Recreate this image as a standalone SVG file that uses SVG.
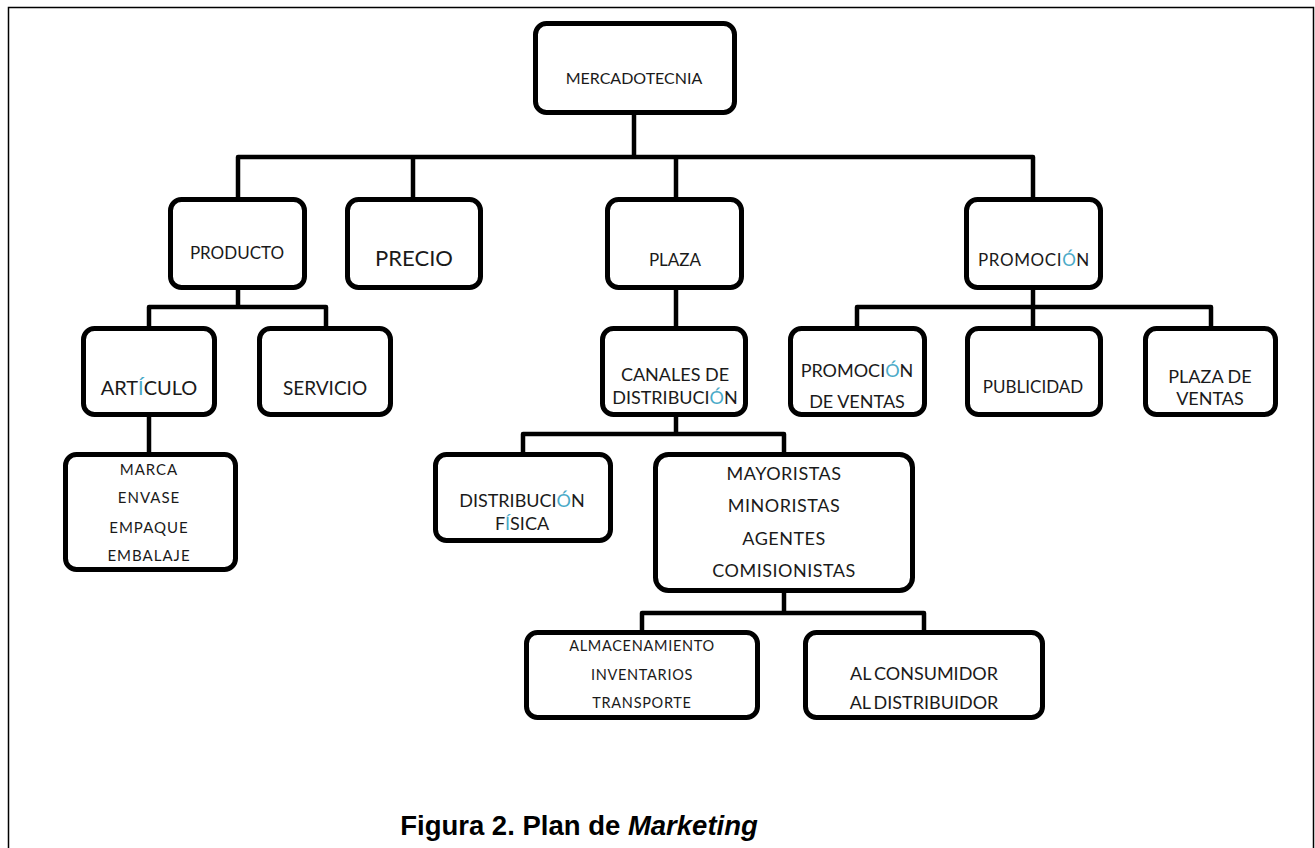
<svg xmlns="http://www.w3.org/2000/svg" width="1315" height="848" viewBox="0 0 1315 848">
  <style>
    .box { fill: #ffffff; stroke: #000000; stroke-width: 5; }
    .wire { fill: none; stroke: #000000; stroke-width: 4.5; stroke-linejoin: round; }
    .lbl { font-family: Lato, "Open Sans", "DejaVu Sans", sans-serif; fill: #1a1a1a; text-anchor: middle; }
    .acc { fill: #4aaac8; }
    .cap { font-family: "Liberation Sans", Arial, sans-serif; font-weight: bold; font-size: 27.5px; fill: #000000; text-anchor: middle; }
  </style>

  <rect x="0" y="0" width="1315" height="848" fill="#ffffff"/>
  <!-- page frame, open at the bottom -->
  <path d="M8.5,860 V7.5 H1313.5 V860" fill="none" stroke="#000000" stroke-width="1.5"/>

  <g id="connectors">
    <path class="wire" d="M634,115 V157"/>
    <path class="wire" d="M238,198 V157 H1033 V198"/>
    <path class="wire" d="M413,157 V198"/>
    <path class="wire" d="M676,157 V198"/>
    <path class="wire" d="M238,290 V307"/>
    <path class="wire" d="M149,326 V307 H326 V326"/>
    <path class="wire" d="M149,417 V452"/>
    <path class="wire" d="M676,290 V326"/>
    <path class="wire" d="M676,417 V434"/>
    <path class="wire" d="M523,452 V434 H784 V452"/>
    <path class="wire" d="M784,593 V613"/>
    <path class="wire" d="M642,630 V613 H924 V630"/>
    <path class="wire" d="M1033,290 V326"/>
    <path class="wire" d="M857,326 V307 H1211 V326"/>
  </g>

  <g id="mercadotecnia">
    <rect class="box" x="535.5" y="23.5" width="199" height="89" rx="11"/>
    <text class="lbl" x="634" y="84" font-size="16">MERCADOTECNIA</text>
  </g>

  <g id="producto">
    <rect class="box" x="170.5" y="199.5" width="134" height="88" rx="11"/>
    <text class="lbl" x="237" y="259" font-size="17">PRODUCTO</text>
  </g>

  <g id="precio">
    <rect class="box" x="347.5" y="199.5" width="133" height="88" rx="11"/>
    <text class="lbl" x="414" y="266" font-size="22">PRECIO</text>
  </g>

  <g id="plaza">
    <rect class="box" x="607.5" y="199.5" width="134" height="88" rx="11"/>
    <text class="lbl" x="675" y="266" font-size="17">PLAZA</text>
  </g>

  <g id="promocion">
    <rect class="box" x="966.5" y="199.5" width="134" height="88" rx="11"/>
    <text class="lbl" x="1034" y="266" font-size="17" letter-spacing="0.6">PROMOCI<tspan class="acc">Ó</tspan>N</text>
  </g>

  <g id="articulo">
    <rect class="box" x="83.5" y="328.5" width="131" height="86" rx="11"/>
    <text class="lbl" x="149" y="395" font-size="20">ART<tspan class="acc">Í</tspan>CULO</text>
  </g>

  <g id="servicio">
    <rect class="box" x="259.5" y="328.5" width="131" height="86" rx="11"/>
    <text class="lbl" x="325" y="395" font-size="19">SERVICIO</text>
  </g>

  <g id="marca">
    <rect class="box" x="65.5" y="454.5" width="170" height="115" rx="11"/>
    <text class="lbl" x="149" y="475" font-size="15" letter-spacing="1">MARCA</text>
    <text class="lbl" x="149" y="503" font-size="15" letter-spacing="1">ENVASE</text>
    <text class="lbl" x="149" y="533" font-size="15" letter-spacing="1">EMPAQUE</text>
    <text class="lbl" x="149" y="561" font-size="15" letter-spacing="1">EMBALAJE</text>
  </g>

  <g id="canales">
    <rect class="box" x="602.5" y="328.5" width="143" height="86" rx="11"/>
    <text class="lbl" x="675" y="381" font-size="18">CANALES DE</text>
    <text class="lbl" x="675" y="404" font-size="18">DISTRIBUCI<tspan class="acc">Ó</tspan>N</text>
  </g>

  <g id="distribucion-fisica">
    <rect class="box" x="435.5" y="454.5" width="175" height="86" rx="11"/>
    <text class="lbl" x="522" y="507" font-size="18">DISTRIBUCI<tspan class="acc">Ó</tspan>N</text>
    <text class="lbl" x="522" y="530" font-size="18">F<tspan class="acc">Í</tspan>SICA</text>
  </g>

  <g id="mayoristas">
    <rect class="box" x="655.5" y="454.5" width="257" height="136" rx="13"/>
    <text class="lbl" x="784" y="480" font-size="18" letter-spacing="0.5">MAYORISTAS</text>
    <text class="lbl" x="784" y="512" font-size="18" letter-spacing="0.5">MINORISTAS</text>
    <text class="lbl" x="784" y="545" font-size="18" letter-spacing="0.5">AGENTES</text>
    <text class="lbl" x="784" y="577" font-size="18" letter-spacing="0.5">COMISIONISTAS</text>
  </g>

  <g id="almacenamiento">
    <rect class="box" x="526.5" y="632.5" width="231" height="85" rx="11"/>
    <text class="lbl" x="642" y="651" font-size="14.5" letter-spacing="0.7">ALMACENAMIENTO</text>
    <text class="lbl" x="642" y="680" font-size="14.5" letter-spacing="0.7">INVENTARIOS</text>
    <text class="lbl" x="642" y="708" font-size="14.5" letter-spacing="0.7">TRANSPORTE</text>
  </g>

  <g id="consumidor">
    <rect class="box" x="805.5" y="632.5" width="237" height="85" rx="11"/>
    <text class="lbl" x="924" y="680" font-size="18" word-spacing="-1.5">AL CONSUMIDOR</text>
    <text class="lbl" x="924" y="709" font-size="18" word-spacing="-1.5">AL DISTRIBUIDOR</text>
  </g>

  <g id="promocion-ventas">
    <rect class="box" x="790.5" y="328.5" width="134" height="86" rx="11"/>
    <text class="lbl" x="857" y="377" font-size="18">PROMOCI<tspan class="acc">Ó</tspan>N</text>
    <text class="lbl" x="857" y="408" font-size="18">DE VENTAS</text>
  </g>

  <g id="publicidad">
    <rect class="box" x="967.5" y="328.5" width="133" height="86" rx="11"/>
    <text class="lbl" x="1033" y="393" font-size="17">PUBLICIDAD</text>
  </g>

  <g id="plaza-ventas">
    <rect class="box" x="1145.5" y="328.5" width="130" height="86" rx="11"/>
    <text class="lbl" x="1210" y="383" font-size="18">PLAZA DE</text>
    <text class="lbl" x="1210" y="405" font-size="18">VENTAS</text>
  </g>

  <text class="cap" x="579" y="835">Figura 2. Plan de <tspan font-style="italic">Marketing</tspan></text>
</svg>
